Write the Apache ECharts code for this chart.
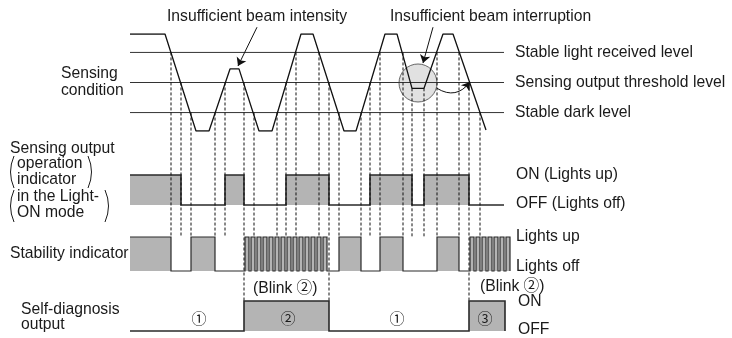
<!DOCTYPE html>
<html>
  <head>
    <meta charset="utf-8" />
    <title>Sensing timing chart</title>
    <script src="https://cdn.jsdelivr.net/npm/echarts@6/dist/echarts.min.js"></script>
  </head>
  <body style="margin: 0; background: #fff">
    <div id="main" style="width: 732px; height: 338px"></div>
    <script type="text/javascript">
      // received light level over time (0 = trough, 100 = full light)
      var waveT = [0, 35, 66, 79, 100, 109, 129, 142, 171, 183, 214, 226, 255, 267, 282, 294, 313, 323, 356];
      var waveLevel = [100, 100, 0, 0, 64, 64, 0, 0, 100, 100, 0, 0, 100, 100, 44, 44, 100, 100, 1];

      var levelNames = ["Stable light received level", "Sensing output threshold level", "Stable dark level"];
      var levelValues = [81, 50, 19];
      var levelEnd = 374;

      // ON intervals [start, end] of each output
      var outputOn = [[0, 51], [95, 114], [156, 199], [240, 282], [294, 339]];
      var outputEnd = 374;
      var stabilityOn = [
        [0, 41], [61, 85],
        [115, 119], [121, 125], [127, 131], [133, 137], [139, 143], [145, 149], [151, 155],
        [157, 161], [163, 167], [169, 173], [175, 179], [181, 185], [187, 191], [193, 197],
        [209, 231], [250, 273], [307, 329],
        [340, 344], [346, 350], [352, 356], [358, 362], [364, 368], [370, 374], [376, 380]
      ];
      var stabilityEnd = 380;
      var selfDiagOn = [[114, 199], [339, 375]];
      var selfDiagEnd = 375;
      var selfDiagLabels = ["①", "②", "①", "③"];
      var selfDiagLabelT = [69, 158, 267, 355];

      // dashed guide lines: time, level where they start, row where they stop
      var markT = [41, 51, 61, 85, 95, 114, 124, 147, 156, 166, 189, 199, 209, 231, 240, 250, 273, 282, 294, 307, 329, 339, 350];
      var markFrom = [81, 50, 19, 19, 50, 50, 19, 19, 50, 81, 81, 50, 19, 19, 50, 81, 81, 44, 44, 81, 81, 50, 19];
      var markRow = [2, 2, 2, 2, 2, 3, 2, 2, 2, 2, 2, 3, 2, 2, 2, 2, 2, 2, 2, 2, 2, 3, 2];

      var FONT = "15.7px 'Liberation Sans', Arial, 'Noto Sans CJK JP', sans-serif";
      var INK = "#1a1a1a";
      var GRAY = "#b4b4b4";

      function toSteps(intervals, end) {
        var pts = [];
        if (intervals[0][0] > 0) pts.push([0, 0]);
        intervals.forEach(function (iv) {
          if (iv[0] > 0) pts.push([iv[0], 0]);
          pts.push([iv[0], 1]);
          pts.push([iv[1], 1]);
          pts.push([iv[1], 0]);
        });
        if (intervals[intervals.length - 1][1] < end) pts.push([end, 0]);
        return pts;
      }

      var myChart = echarts.init(document.getElementById("main"));

      var rows = [
        { top: 34, height: 97, max: 100 },
        { top: 175, height: 30, max: 1 },
        { top: 237, height: 34, max: 1 },
        { top: 301, height: 30, max: 1 }
      ];

      var series = [];
      levelValues.forEach(function (v) {
        series.push({
          type: "line", xAxisIndex: 0, yAxisIndex: 0, symbol: "none", silent: true, z: 2,
          lineStyle: { color: "#333", width: 1 },
          data: [[0, v], [levelEnd, v]]
        });
      });
      series.push({
        type: "line", xAxisIndex: 0, yAxisIndex: 0, symbol: "none", silent: true, z: 4,
        lineStyle: { color: "#111", width: 1.3 },
        data: waveT.map(function (t, i) { return [t, waveLevel[i]]; })
      });
      // highlight circle round the interruption
      series.push({
        type: "scatter", xAxisIndex: 0, yAxisIndex: 0, silent: true, z: 1,
        symbolSize: 38,
        itemStyle: { color: "#dadada", borderColor: "#444", borderWidth: 1 },
        data: [[288, 49.5]]
      });
      series.push({
        type: "lines", coordinateSystem: "cartesian2d", xAxisIndex: 0, yAxisIndex: 0,
        clip: false, silent: true, z: 5,
        symbol: ["none", "arrow"], symbolSize: 8,
        lineStyle: { color: "#111", width: 1, opacity: 1 },
        data: [
          { coords: [[127, 107], [108, 67]] },
          { coords: [[303, 107], [293, 70]] }
        ]
      });
      series.push({
        type: "lines", coordinateSystem: "cartesian2d", xAxisIndex: 0, yAxisIndex: 0,
        clip: false, silent: true, z: 5,
        symbol: ["none", "arrow"], symbolSize: 8,
        lineStyle: { color: "#111", width: 1, opacity: 1, curveness: -0.45 },
        data: [{ coords: [[307, 44], [340, 50.5]] }]
      });

      // digital signals: gray blocks while ON, plus the step outline
      var strokeW = [1.6, 1.2, 1.6];
      [[outputOn, outputEnd], [stabilityOn, stabilityEnd], [selfDiagOn, selfDiagEnd]].forEach(function (sig, k) {
        var steps = toSteps(sig[0], sig[1]);
        series.push({
          type: "custom", xAxisIndex: k + 1, yAxisIndex: k + 1, silent: true, z: 2,
          data: sig[0],
          renderItem: function (params, api) {
            var a = api.coord([api.value(0), 1]);
            var b = api.coord([api.value(1), 0]);
            return {
              type: "rect",
              shape: { x: a[0], y: a[1], width: b[0] - a[0], height: b[1] - a[1] },
              style: { fill: GRAY }
            };
          }
        });
        series.push({
          type: "custom", xAxisIndex: k + 1, yAxisIndex: k + 1, silent: true, z: 3,
          data: [[0, 0]],
          renderItem: function (params, api) {
            return {
              type: "polyline",
              shape: { points: steps.map(function (p) { return api.coord(p); }) },
              style: { stroke: "#2a2a2a", lineWidth: strokeW[k], fill: null }
            };
          }
        });
      });

      option = {
        animation: false,
        grid: rows.map(function (r) {
          return { left: 130, width: 382, top: r.top, height: r.height };
        }),
        xAxis: rows.map(function (r, i) {
          return { gridIndex: i, type: "value", min: 0, max: 382, show: false };
        }),
        yAxis: rows.map(function (r, i) {
          return { gridIndex: i, type: "value", min: 0, max: r.max, show: false };
        }),
        series: series
      };
      myChart.setOption(option);

      function txt(text, x, y, extra) {
        var st = { text: text, x: x, y: y, font: FONT, fill: INK, textVerticalAlign: "middle" };
        for (var k in extra || {}) st[k] = extra[k];
        return { type: "text", silent: true, z: 10, style: st };
      }
      function paren(x, y1, y2, bulge) {
        return {
          type: "bezierCurve", silent: true, z: 10,
          shape: { x1: x, y1: y1, x2: x, y2: y2, cpx1: x + bulge, cpy1: (y1 + y2) / 2 },
          style: { stroke: INK, lineWidth: 1, fill: null }
        };
      }

      var g = [];
      // dashed guides, placed through the grids' own scales
      markT.forEach(function (t, i) {
        var p1 = myChart.convertToPixel({ gridIndex: 0 }, [t, markFrom[i]]);
        var p2 = myChart.convertToPixel({ gridIndex: markRow[i] }, [t, 1]);
        g.push({
          type: "line", silent: true, z: 6,
          shape: { x1: p1[0], y1: p1[1], x2: p2[0], y2: p2[1] },
          style: { stroke: "#111", lineWidth: 1, lineDash: [3, 2] }
        });
      });

      // level names at the right of each level line
      levelValues.forEach(function (v, i) {
        var p = myChart.convertToPixel({ gridIndex: 0 }, [levelEnd, v]);
        g.push(txt(levelNames[i], p[0] + 11, p[1]));
      });

      selfDiagLabels.forEach(function (s, i) {
        var p = myChart.convertToPixel({ gridIndex: 3 }, [selfDiagLabelT[i], 0.43]);
        g.push(txt(s, p[0], p[1], { textAlign: "center", font: "15px 'Noto Sans CJK JP', sans-serif" }));
      });

      g.push(txt("Insufficient beam intensity", 167, 17));
      g.push(txt("Insufficient beam interruption", 390, 17));
      g.push(txt("Sensing", 61, 74));
      g.push(txt("condition", 61, 91));

      g.push(txt("Sensing output", 10, 149));
      g.push(txt("operation", 17, 164));
      g.push(txt("indicator", 17, 180));
      g.push(txt("in the Light-", 17, 197));
      g.push(txt("ON mode", 17, 213));
      g.push(paren(14, 156, 188, -7));
      g.push(paren(88, 156, 188, 7));
      g.push(paren(14, 190, 222, -7));
      g.push(paren(105, 190, 222, 7));

      g.push(txt("Stability indicator", 10, 254));
      g.push(txt("Self-diagnosis", 21, 310));
      g.push(txt("output", 21, 325));

      g.push(txt("ON (Lights up)", 516, 175));
      g.push(txt("OFF (Lights off)", 516, 204));
      g.push(txt("Lights up", 516, 237));
      g.push(txt("Lights off", 516, 267));
      g.push(txt("(Blink ②)", 253, 289));
      g.push(txt("(Blink ②)", 480, 287));
      g.push(txt("ON", 518, 302));
      g.push(txt("OFF", 518, 330));

      myChart.setOption({ graphic: g });
    </script>
  </body>
</html>
